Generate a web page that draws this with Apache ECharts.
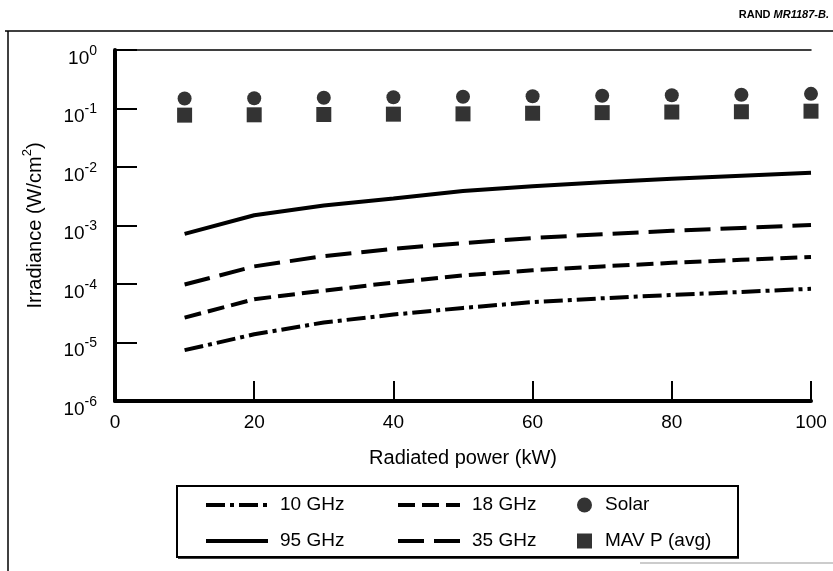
<!DOCTYPE html>
<html>
<head>
<meta charset="utf-8">
<title>Irradiance vs radiated power</title>
<script src="https://cdn.jsdelivr.net/npm/echarts@6/dist/echarts.min.js"></script>
<style>
  html, body { margin: 0; padding: 0; background: #fff; }
  #chart { width: 833px; height: 571px; }
</style>
</head>
<body>
<div id="chart"></div>
<script>
// radiated power (kW)
var powerKW = [10, 20, 30, 40, 50, 60, 70, 80, 90, 100];
// irradiance (W/cm2)
var ghz10 = [7.4e-6, 1.38e-5, 2.2e-5, 3.0e-5, 3.9e-5, 4.9e-5, 5.7e-5, 6.5e-5, 7.3e-5, 8.3e-5];
var ghz18 = [2.66e-5, 5.5e-5, 7.7e-5, 1.06e-4, 1.40e-4, 1.72e-4, 2.0e-4, 2.3e-4, 2.6e-4, 2.9e-4];
var ghz35 = [9.8e-5, 2.0e-4, 3.0e-4, 4.0e-4, 5.0e-4, 6.1e-4, 7.1e-4, 8.1e-4, 9.1e-4, 1.02e-3];
var ghz95 = [7.2e-4, 1.5e-3, 2.2e-3, 2.9e-3, 3.9e-3, 4.7e-3, 5.5e-3, 6.3e-3, 7.1e-3, 8.0e-3];
var solar = [0.148, 0.150, 0.153, 0.156, 0.159, 0.162, 0.165, 0.168, 0.172, 0.178];
var mavAvg = [0.077, 0.078, 0.079, 0.080, 0.081, 0.083, 0.085, 0.087, 0.088, 0.090];

var lineNames = ['10 GHz', '18 GHz', '95 GHz', '35 GHz'];
var dotNames = ['Solar', 'MAV P (avg)'];

var font = "'Liberation Sans', Arial, Helvetica, sans-serif";

function pairs(ys) {
    var out = [];
    for (var i = 0; i < powerKW.length; i++) {
        out.push([powerKW[i], ys[i]]);
    }
    return out;
}

// symbol kept only so the legend does not draw its default dot; it is transparent
function lineSeries(name, ys, dash) {
    return {
        name: name,
        type: 'line',
        data: pairs(ys),
        symbol: 'circle',
        symbolSize: 0,
        showSymbol: false,
        lineStyle: { color: '#000', width: 4, type: dash },
        itemStyle: { color: 'rgba(0,0,0,0)', borderWidth: 0 },
        z: 3
    };
}

var myChart = echarts.init(document.getElementById('chart'));

var option = {
    backgroundColor: '#fff',
    animation: false,
    textStyle: { fontFamily: font, color: '#000' },
    grid: { left: 115, right: 22, top: 50, bottom: 170 },
    xAxis: [{
        type: 'value',
        position: 'bottom',
        min: 0, max: 100, interval: 20,
        name: 'Radiated power (kW)',
        nameLocation: 'middle',
        nameGap: 47,
        nameTextStyle: { fontSize: 20, color: '#000', fontFamily: font },
        axisLine: { lineStyle: { color: '#000', width: 4 } },
        axisTick: { inside: true, length: 20, lineStyle: { color: '#000', width: 2 } },
        axisLabel: { fontSize: 19, color: '#000', margin: 12, fontFamily: font },
        splitLine: { show: false }
    }, {
        type: 'value',
        position: 'top',
        min: 0, max: 100,
        axisLine: { lineStyle: { color: '#000', width: 1.5 } },
        axisTick: { show: false },
        axisLabel: { show: false },
        splitLine: { show: false }
    }],
    yAxis: [{
        type: 'log',
        logBase: 10,
        min: 1e-6, max: 1,
        position: 'left',
        name: '{a|Irradiance (W/cm}{s|2}{a|)}',
        nameLocation: 'middle',
        nameGap: 70,
        nameRotate: 90,
        nameTextStyle: {
            rich: {
                a: { fontSize: 20, color: '#000', fontFamily: font, lineHeight: 24, verticalAlign: 'bottom' },
                s: { fontSize: 13, color: '#000', fontFamily: font, verticalAlign: 'top' }
            }
        },
        axisLine: { lineStyle: { color: '#000', width: 4 } },
        axisTick: { inside: true, length: 22, lineStyle: { color: '#000', width: 2 } },
        axisLabel: {
            margin: 18,
            padding: [12, 0, 0, 0],
            formatter: function (v) {
                var e = Math.round(Math.log(v) / Math.LN10);
                return '{b|10}{s|' + e + '}';
            },
            rich: {
                b: { fontSize: 19, color: '#000', fontFamily: font, lineHeight: 24, verticalAlign: 'bottom' },
                s: { fontSize: 14, color: '#000', fontFamily: font, verticalAlign: 'top' }
            }
        },
        splitLine: { show: false }
    }, {
        type: 'log',
        logBase: 10,
        min: 1e-6, max: 1,
        position: 'right',
        axisLine: { lineStyle: { color: '#000', width: 1.5 } },
        axisTick: { show: false },
        axisLabel: { show: false },
        splitLine: { show: false }
    }],
    legend: [{
        data: lineNames,
        orient: 'horizontal',
        left: 199,
        top: 490,
        width: 370,
        itemWidth: 62,
        itemHeight: 20,
        itemGap: 16,
        lineStyle: { width: 4 },
        textStyle: { fontSize: 19, color: '#000', fontFamily: font, width: 100, padding: [0, 0, 0, 7], lineHeight: 20 }
    }, {
        data: dotNames,
        orient: 'vertical',
        left: 572,
        top: 490,
        itemWidth: 15,
        itemHeight: 15,
        itemGap: 16,
        textStyle: { fontSize: 19, color: '#000', fontFamily: font, padding: [0, 0, 0, 8], lineHeight: 20 }
    }],
    graphic: [
        { type: 'line', shape: { x1: 5, y1: 31, x2: 833, y2: 31 }, style: { stroke: '#000', lineWidth: 1.5 } },
        { type: 'line', shape: { x1: 8, y1: 31, x2: 8, y2: 571 }, style: { stroke: '#000', lineWidth: 1.5 } },
        { type: 'line', shape: { x1: 640, y1: 563, x2: 833, y2: 563 }, style: { stroke: '#999', lineWidth: 1 } },
        { type: 'rect', shape: { x: 177, y: 486, width: 561, height: 71 }, style: { fill: 'none', stroke: '#000', lineWidth: 2 } },
        { type: 'line', shape: { x1: 178, y1: 558, x2: 739, y2: 558 }, style: { stroke: '#000', lineWidth: 1.5 } },
        {
            type: 'text', right: 4, top: 9,
            style: {
                text: '{r|RAND }{m|MR1187-B.}',
                rich: {
                    r: { fontSize: 11, fontWeight: 'bold', fill: '#000', fontFamily: font },
                    m: { fontSize: 11, fontWeight: 'bold', fontStyle: 'italic', fill: '#000', fontFamily: font }
                }
            }
        }
    ],
    series: [
        lineSeries('10 GHz', ghz10, [19, 5, 4, 5]),
        lineSeries('18 GHz', ghz18, [17, 7]),
        lineSeries('35 GHz', ghz35, [26, 10]),
        lineSeries('95 GHz', ghz95, 'solid'),
        {
            name: 'Solar',
            type: 'scatter',
            data: pairs(solar),
            symbol: 'circle',
            symbolSize: 14,
            itemStyle: { color: '#000' },
            z: 4
        },
        {
            name: 'MAV P (avg)',
            type: 'scatter',
            data: pairs(mavAvg),
            symbol: 'rect',
            symbolSize: 15,
            itemStyle: { color: '#000' },
            z: 4
        }
    ]
};

myChart.setOption(option);
</script>
</body>
</html>
